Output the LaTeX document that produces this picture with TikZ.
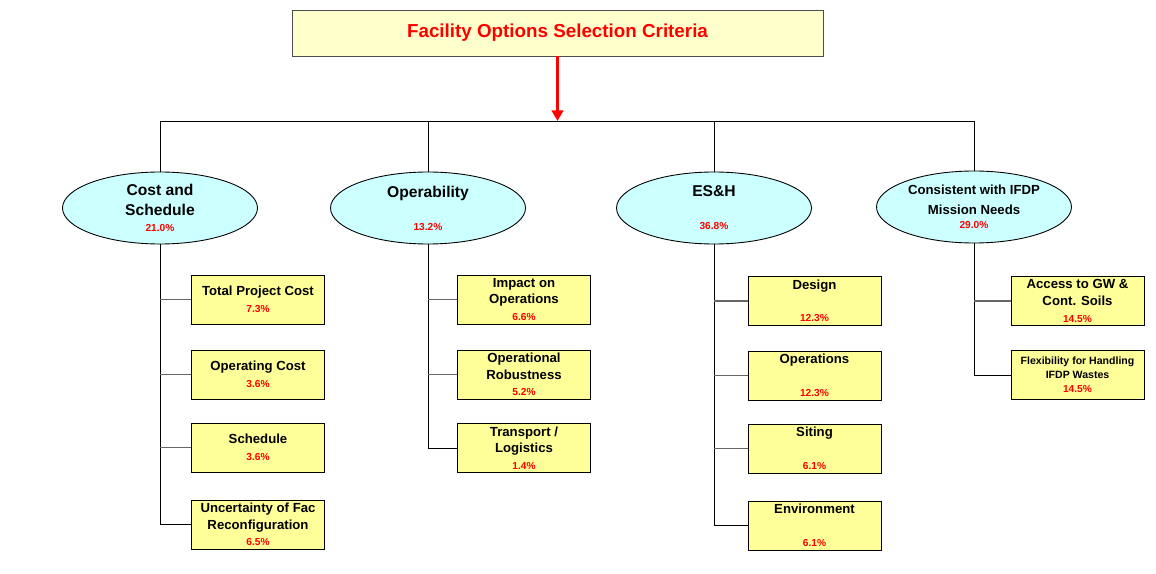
\documentclass[tikz,border=0pt]{standalone}
\usepackage{fontspec}
\setmainfont{Liberation Sans}
\usetikzlibrary{arrows.meta,shapes.geometric}
\definecolor{titlefill}{HTML}{FFFFCC}
\definecolor{boxfill}{HTML}{FFFF99}
\definecolor{ovalfill}{HTML}{CCFFFF}
\newcommand{\pct}[1]{{\fontsize{5.8}{7}\selectfont\color{red}#1}}

\begin{document}
\begin{tikzpicture}[x=0.02cm,y=-0.02cm,line width=0.5pt,
  crit/.style={ellipse,draw,fill=ovalfill,minimum width=3.9cm,minimum height=1.44cm,inner sep=0pt,align=center,font=\bfseries\fontsize{8.9}{11.3}\selectfont},
  sub/.style={draw,fill=boxfill,minimum width=2.66cm,minimum height=0.98cm,inner sep=0pt,align=center,font=\bfseries\fontsize{7.5}{9.5}\selectfont},
  link/.style={draw=black!60,line width=0.7pt}]
\useasboundingbox (0,0) rectangle (1156,574);
% top of the tree
\node[draw=black!70,fill=titlefill,minimum width=10.62cm,minimum height=0.92cm,inner sep=0pt,
  font=\bfseries\fontsize{10.7}{13}\selectfont,text=red] (title) at (557.5,33) {Facility Options Selection Criteria};
\coordinate (bus) at (557,121);
% main criteria
\node[crit] (cost) at (160,208) {Cost and\\Schedule\\[-2pt]\pct{21.0\%}};
\node[crit] (oper) at (428,208) {Operability\\[7.5pt]\pct{13.2\%}};
\node[crit] (esh) at (714,208) {ES\&H\\[7.5pt]\pct{36.8\%}};
\node[crit,font=\bfseries\fontsize{7.5}{11.3}\selectfont] (cons) at (974,207) {Consistent with IFDP\\Mission Needs\\[-3pt]\pct{29.0\%}};
% sub criteria
\node[sub] (cost1) at (258,299.5) {Total Project Cost\\\pct{7.3\%}};
\node[sub] (cost2) at (258,374.5) {Operating Cost\\\pct{3.6\%}};
\node[sub] (cost3) at (258,447.5) {Schedule\\\pct{3.6\%}};
\node[sub] (cost4) at (258,524.5) {Uncertainty of Fac\\Reconfiguration\\\pct{6.5\%}};
\node[sub] (oper1) at (524,299.5) {Impact on\\Operations\\\pct{6.6\%}};
\node[sub] (oper2) at (524,374.5) {Operational\\Robustness\\\pct{5.2\%}};
\node[sub] (oper3) at (524,448) {Transport /\\Logistics\\\pct{1.4\%}};
\node[sub] (esh1) at (814.5,301) {Design\\[9pt]\pct{12.3\%}};
\node[sub] (esh2) at (814.5,375.5) {Operations\\[9pt]\pct{12.3\%}};
\node[sub] (esh3) at (814.5,448.5) {Siting\\[9pt]\pct{6.1\%}};
\node[sub] (esh4) at (814.5,525.5) {Environment\\[9pt]\pct{6.1\%}};
\node[sub] (cons1) at (1077.5,301) {Access to GW \&\\Cont. Soils\\\pct{14.5\%}};
\node[sub,font=\bfseries\fontsize{6}{8}\selectfont] (cons2) at (1077.5,375) {Flexibility for Handling\\IFDP Wastes\\\pct{14.5\%}};
% connectors
\draw[red,line width=1.7pt,-{Triangle[length=6pt,width=6.5pt]}] (title.south) -- (title.south|-bus);
\draw (cost.north) -- (cost.north|-bus) -- (cons.north|-bus) -- (cons.north);
\draw (oper.north) -- (oper.north|-bus);
\draw (esh.north) -- (esh.north|-bus);
\draw (cost.south) |- (cost4.west);
\draw[link] (cost.south|-cost1.west) -- (cost1.west);
\draw[link] (cost.south|-cost2.west) -- (cost2.west);
\draw[link] (cost.south|-cost3.west) -- (cost3.west);
\draw (oper.south) |- (oper3.west);
\draw[link] (oper.south|-oper1.west) -- (oper1.west);
\draw[link] (oper.south|-oper2.west) -- (oper2.west);
\draw (esh.south) |- (esh4.west);
\draw[link] (esh.south|-esh1.west) -- (esh1.west);
\draw[link] (esh.south|-esh2.west) -- (esh2.west);
\draw[link] (esh.south|-esh3.west) -- (esh3.west);
\draw (cons.south) |- (cons2.west);
\draw[link] (cons.south|-cons1.west) -- (cons1.west);
\end{tikzpicture}
\end{document}
